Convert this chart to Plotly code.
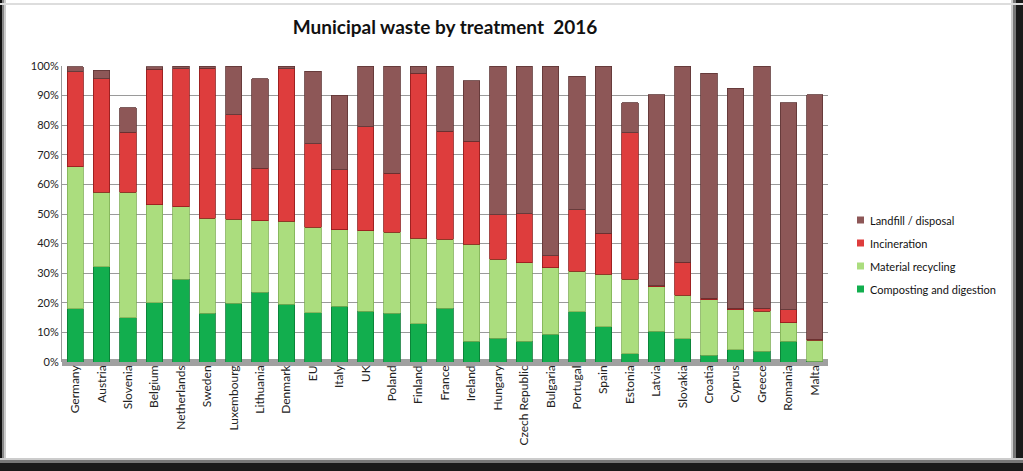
import plotly.graph_objects as go

countries = ["Germany", "Austria", "Slovenia", "Belgium", "Netherlands", "Sweden",
             "Luxembourg", "Lithuania", "Denmark", "EU", "Italy", "UK", "Poland",
             "Finland", "France", "Ireland", "Hungary", "Czech Republic", "Bulgaria",
             "Portugal", "Spain", "Estonia", "Latvia", "Slovakia", "Croatia", "Cyprus",
             "Greece", "Romania", "Malta"]

composting = [18.0, 32.2, 15.0, 20.1, 27.9, 16.4, 19.8, 23.5, 19.5, 16.6, 18.9, 17.2,
              16.4, 13.0, 18.1, 7.0, 8.1, 7.0, 9.3, 16.9, 11.9, 2.8, 10.4, 7.9, 2.3,
              4.2, 3.6, 7.0, 0.3]
recycling = [48.0, 25.2, 42.3, 33.0, 24.6, 32.2, 28.4, 24.3, 28.0, 28.9, 25.7, 27.2,
             27.4, 28.8, 23.4, 32.8, 26.6, 26.6, 22.6, 13.8, 17.8, 25.1, 15.1, 14.7,
             18.8, 13.5, 13.6, 6.3, 7.0]
incineration = [32.0, 38.3, 20.3, 45.8, 46.5, 50.7, 35.4, 17.7, 51.5, 28.3, 20.4, 35.0,
                20.0, 55.7, 36.5, 34.8, 15.0, 16.5, 4.0, 20.7, 13.8, 49.5, 0.3, 11.1,
                0.5, 0.4, 0.9, 4.4, 0.4]
landfill = [1.8, 2.9, 8.3, 0.8, 1.0, 0.7, 16.4, 30.2, 1.0, 24.5, 25.1, 20.6, 36.2, 2.5,
            22.0, 20.5, 50.3, 49.9, 64.1, 45.2, 56.5, 10.2, 64.5, 66.3, 75.9, 74.4,
            81.9, 69.9, 82.6]

y_ticks = [0, 10, 20, 30, 40, 50, 60, 70, 80, 90, 100]
y_tick_labels = [f"{v}%" for v in y_ticks]

series = [
    ("Composting and digestion", composting, "#12AE4E", "#0A7A35"),
    ("Material recycling", recycling, "#ABDD7E", "#7FAF55"),
    ("Incineration", incineration, "#DE3D3D", "#8E1A1A"),
    ("Landfill / disposal", landfill, "#8D5757", "#5E3535"),
]

fig = go.Figure()
for name, vals, color, edge in series:
    fig.add_trace(go.Bar(
        x=countries, y=vals, name=name,
        marker=dict(color=color, line=dict(color=edge, width=0.8)),
        width=0.62, showlegend=False,
    ))

W, H = 1023, 471
ml, mr, mt, mb = 62, 195, 66, 109
pw, ph = W - ml - mr, H - mt - mb

def px_x(p):
    return (p - ml) / pw

def px_y(p):
    return (H - mb - p) / ph

font = "Lato, Calibri, Carlito, sans-serif"

shapes = [
    # floor band
    dict(type="rect", xref="paper", yref="paper", x0=0, x1=1,
         y0=px_y(366), y1=px_y(359), fillcolor="#A0A0A0",
         line=dict(width=0), layer="below"),
]

# frame strips (left, right, bottom) with soft inner shading
frame = [
    (0, 0, 2, H, "#111"), (2, 0, 4, H, "#888"), (4, 0, 6, H, "#CCC"),
    (1016, 0, W, H, "#1A1A1A"), (1013, 0, 1016, H, "#777"), (1011, 0, 1013, H, "#CCC"),
    (0, 463, W, H, "#1A1A1A"), (0, 460, W, 463, "#777"), (0, 458, W, 460, "#CCC"),
    (0, 3, W, 5, "#DDD"),
]
for x0, y0, x1, y1, c in frame:
    shapes.append(dict(type="rect", xref="paper", yref="paper",
                       x0=px_x(x0), x1=px_x(x1), y0=px_y(y1), y1=px_y(y0),
                       fillcolor=c, line=dict(width=0)))

# legend (manual, to match the compact Excel-style legend)
legend_rows = [("Landfill / disposal", "#8D5757", 220),
               ("Incineration", "#DE3D3D", 243),
               ("Material recycling", "#ABDD7E", 266),
               ("Composting and digestion", "#12AE4E", 289)]
annotations = []
for label, color, yy in legend_rows:
    shapes.append(dict(type="rect", xref="paper", yref="paper",
                       x0=px_x(857), x1=px_x(864), y0=px_y(yy + 3.5), y1=px_y(yy - 3.5),
                       fillcolor=color, line=dict(width=0)))
    annotations.append(dict(text=label, xref="paper", yref="paper",
                            x=px_x(868), y=px_y(yy), xanchor="left", yanchor="middle",
                            showarrow=False,
                            font=dict(size=11, family=font, color="#111")))

fig.update_layout(
    width=W, height=H,
    margin=dict(l=ml, r=mr, t=mt, b=mb),
    barmode="stack",
    paper_bgcolor="white",
    plot_bgcolor="white",
    font=dict(family=font, size=11, color="#222"),
    title=dict(text="<b>Municipal waste by treatment  2016</b>", x=0.5, xref="paper",
               xanchor="center", y=1 - 27 / H, yanchor="middle",
               font=dict(size=19, color="#111", family=font)),
    showlegend=False,
    xaxis=dict(tickangle=-90, tickfont=dict(size=12, family=font, color="#222"),
               showgrid=False, showline=False, ticks="", range=[-0.5, 28.5]),
    yaxis=dict(range=[0, 100], tickvals=y_ticks, ticktext=y_tick_labels,
               tickfont=dict(size=11, family=font, color="#222"),
               showgrid=True, gridcolor="#9A9A9A", gridwidth=1,
               showline=True, linecolor="#9A9A9A", zeroline=False, ticks=""),
    shapes=shapes,
    annotations=annotations,
)

fig.write_html("out.html",
               config={"displayModeBar": False},
               post_script="document.body.style.margin='0';document.body.style.overflow='hidden';")
